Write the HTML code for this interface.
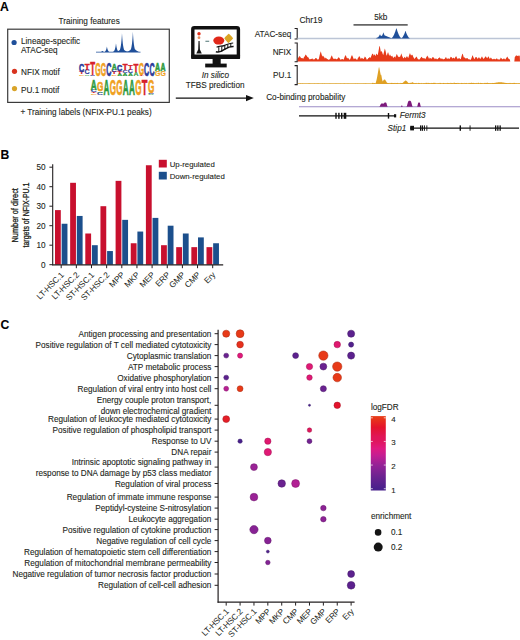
<!DOCTYPE html>
<html><head><meta charset="utf-8"><style>
html,body{margin:0;padding:0;background:#fff;}
svg{display:block;font-family:"Liberation Sans",sans-serif;}
text.t{stroke:#231f20;stroke-width:0.1px;}
</style></head><body>
<svg width="520" height="640" viewBox="0 0 520 640">
<rect width="520" height="640" fill="#fff"/>
<text class="t" x="0.1" y="10.5" font-size="12.2" fill="#000" font-weight="bold">A</text>
<text class="t" x="58.6" y="24" font-size="8.2" fill="#231f20" >Training features</text>
<rect x="7.7" y="29.2" width="161.6" height="73.2" fill="none" stroke="#3b3b3b" stroke-width="1.2"/>
<circle cx="14.1" cy="42.5" r="2.6" fill="#1f4f9a"/>
<text class="t" x="21" y="43.5" font-size="8.2" fill="#231f20" >Lineage-specific</text>
<text class="t" x="21" y="53.4" font-size="8.2" fill="#231f20" >ATAC-seq</text>
<circle cx="14.5" cy="71.3" r="2.6" fill="#d8331f"/>
<text class="t" x="21" y="75" font-size="8.2" fill="#231f20" >NFIX motif</text>
<circle cx="14.5" cy="88.6" r="2.6" fill="#d9a42a"/>
<text class="t" x="21" y="92.6" font-size="8.2" fill="#231f20" >PU.1 motif</text>
<text class="t" x="20.4" y="114.6" font-size="8.2" fill="#231f20" >+ Training labels (NFIX-PU.1 peaks)</text>
<path d="M96.00,52.60 L96.00,51.70 L96.10,51.70 L96.20,51.70 L96.30,51.70 L96.40,51.70 L96.50,51.70 L96.60,51.70 L96.70,51.70 L96.80,51.70 L96.90,51.70 L97.00,51.70 L97.10,51.70 L97.20,51.70 L97.30,51.70 L97.40,51.70 L97.50,51.70 L97.60,51.70 L97.70,51.70 L97.80,51.70 L97.90,51.70 L98.00,51.70 L98.10,51.70 L98.20,51.70 L98.30,51.70 L98.40,51.70 L98.50,51.70 L98.60,51.70 L98.70,51.70 L98.80,51.70 L98.90,51.70 L99.00,51.70 L99.10,51.70 L99.20,51.70 L99.30,51.70 L99.40,51.70 L99.50,51.70 L99.60,51.70 L99.70,51.70 L99.80,51.70 L99.90,51.70 L100.00,51.70 L100.10,51.70 L100.20,51.70 L100.30,51.70 L100.40,51.70 L100.50,51.70 L100.60,51.70 L100.70,51.70 L100.80,51.70 L100.90,51.70 L101.00,51.70 L101.10,51.66 L101.20,51.61 L101.30,51.56 L101.40,51.51 L101.50,51.45 L101.60,51.39 L101.70,51.33 L101.80,51.27 L101.90,51.20 L102.00,51.13 L102.10,51.05 L102.20,50.97 L102.30,50.89 L102.40,50.80 L102.50,50.89 L102.60,50.97 L102.70,51.05 L102.80,51.13 L102.90,51.20 L103.00,51.27 L103.10,51.33 L103.20,51.39 L103.30,51.45 L103.40,51.51 L103.50,51.56 L103.60,51.61 L103.70,51.66 L103.80,51.70 L103.90,51.70 L104.00,51.70 L104.10,51.70 L104.20,51.70 L104.30,51.70 L104.40,51.70 L104.50,51.70 L104.60,51.70 L104.70,51.70 L104.80,51.69 L104.90,51.63 L105.00,51.53 L105.10,51.43 L105.20,51.32 L105.30,51.20 L105.40,51.07 L105.50,50.92 L105.60,50.76 L105.70,50.58 L105.80,50.39 L105.90,50.18 L106.00,49.95 L106.10,49.70 L106.20,49.42 L106.30,49.12 L106.40,48.79 L106.50,48.43 L106.60,48.03 L106.70,47.60 L106.80,47.12 L106.90,46.60 L107.00,47.12 L107.10,47.60 L107.20,48.03 L107.30,48.43 L107.40,48.79 L107.50,49.12 L107.60,49.42 L107.70,49.70 L107.80,49.95 L107.90,50.18 L108.00,50.39 L108.10,50.58 L108.20,50.76 L108.30,50.92 L108.40,51.07 L108.50,51.20 L108.60,51.32 L108.70,51.43 L108.80,51.53 L108.90,51.57 L109.00,51.61 L109.10,51.65 L109.20,51.69 L109.30,51.70 L109.40,51.70 L109.50,51.70 L109.60,51.70 L109.70,51.70 L109.80,51.70 L109.90,51.70 L110.00,51.70 L110.10,51.70 L110.20,51.70 L110.30,51.70 L110.40,51.70 L110.50,51.70 L110.60,51.70 L110.70,51.70 L110.80,51.70 L110.90,51.70 L111.00,51.70 L111.10,51.70 L111.20,51.70 L111.30,51.70 L111.40,51.70 L111.50,51.70 L111.60,51.70 L111.70,51.70 L111.80,51.70 L111.90,51.70 L112.00,51.70 L112.10,51.70 L112.20,51.70 L112.30,51.70 L112.40,51.70 L112.50,51.70 L112.60,51.70 L112.70,51.70 L112.80,51.67 L112.90,51.63 L113.00,51.59 L113.10,51.55 L113.20,51.51 L113.30,51.47 L113.40,51.42 L113.50,51.38 L113.60,51.33 L113.70,51.28 L113.80,51.23 L113.90,51.17 L114.00,51.09 L114.10,50.95 L114.20,50.79 L114.30,50.62 L114.40,50.43 L114.50,50.22 L114.60,50.00 L114.70,49.75 L114.80,49.48 L114.90,49.18 L115.00,48.85 L115.10,48.50 L115.20,48.11 L115.30,47.68 L115.40,47.21 L115.50,46.70 L115.60,46.14 L115.70,45.52 L115.80,44.85 L115.90,44.11 L116.00,43.30 L116.10,44.11 L116.20,44.85 L116.30,45.52 L116.40,46.14 L116.50,46.70 L116.60,47.21 L116.70,47.68 L116.80,48.11 L116.90,48.50 L117.00,48.85 L117.10,49.18 L117.20,49.48 L117.30,49.75 L117.40,50.00 L117.50,50.22 L117.60,50.43 L117.70,50.62 L117.80,50.79 L117.90,50.95 L118.00,51.09 L118.10,51.10 L118.20,51.05 L118.30,51.00 L118.40,50.94 L118.50,50.89 L118.60,50.83 L118.70,50.77 L118.80,50.71 L118.90,50.64 L119.00,50.58 L119.10,50.51 L119.20,50.44 L119.30,50.36 L119.40,50.29 L119.50,50.21 L119.60,50.13 L119.70,50.04 L119.80,49.96 L119.90,49.71 L120.00,49.43 L120.10,49.13 L120.20,48.80 L120.30,48.44 L120.40,48.05 L120.50,47.61 L120.60,47.14 L120.70,46.62 L120.80,46.05 L120.90,45.43 L121.00,44.74 L121.10,44.00 L121.20,43.18 L121.30,42.28 L121.40,41.30 L121.50,40.22 L121.60,39.04 L121.70,37.75 L121.80,36.34 L121.90,34.79 L122.00,33.10 L122.10,34.79 L122.20,36.34 L122.30,37.75 L122.40,39.04 L122.50,40.22 L122.60,41.30 L122.70,42.28 L122.80,43.18 L122.90,44.00 L123.00,44.74 L123.10,45.43 L123.20,46.05 L123.30,46.62 L123.40,47.14 L123.50,47.61 L123.60,48.05 L123.70,48.44 L123.80,48.80 L123.90,49.13 L124.00,49.43 L124.10,49.71 L124.20,49.96 L124.30,50.04 L124.40,50.13 L124.50,50.21 L124.60,50.29 L124.70,50.36 L124.80,50.44 L124.90,50.51 L125.00,50.58 L125.10,50.64 L125.20,50.71 L125.30,50.77 L125.40,50.83 L125.50,50.89 L125.60,50.94 L125.70,51.00 L125.80,51.05 L125.90,51.10 L126.00,51.15 L126.10,51.20 L126.20,51.24 L126.30,51.29 L126.40,51.33 L126.50,51.33 L126.60,51.29 L126.70,51.24 L126.80,51.20 L126.90,51.15 L127.00,51.10 L127.10,51.15 L127.20,51.20 L127.30,51.24 L127.40,51.29 L127.50,51.33 L127.60,51.37 L127.70,51.41 L127.80,51.45 L127.90,51.41 L128.00,51.37 L128.10,51.33 L128.20,51.29 L128.30,51.24 L128.40,51.20 L128.50,51.15 L128.60,51.10 L128.70,51.05 L128.80,51.00 L128.90,50.94 L129.00,50.89 L129.10,50.83 L129.20,50.77 L129.30,50.71 L129.40,50.64 L129.50,50.58 L129.60,50.51 L129.70,50.44 L129.80,50.36 L129.90,50.29 L130.00,50.21 L130.10,50.13 L130.20,50.04 L130.30,49.96 L130.40,49.87 L130.50,49.78 L130.60,49.68 L130.70,49.58 L130.80,49.48 L130.90,49.22 L131.00,48.90 L131.10,48.55 L131.20,48.17 L131.30,47.74 L131.40,47.28 L131.50,46.77 L131.60,46.22 L131.70,45.61 L131.80,44.95 L131.90,44.22 L132.00,43.42 L132.10,42.55 L132.20,41.59 L132.30,40.54 L132.40,39.40 L132.50,38.14 L132.60,36.76 L132.70,35.26 L132.80,33.61 L132.90,31.80 L133.00,33.61 L133.10,35.26 L133.20,36.76 L133.30,38.14 L133.40,39.40 L133.50,40.54 L133.60,41.59 L133.70,42.55 L133.80,43.42 L133.90,44.22 L134.00,44.95 L134.10,45.61 L134.20,46.22 L134.30,46.77 L134.40,47.28 L134.50,47.74 L134.60,48.17 L134.70,48.55 L134.80,48.90 L134.90,49.15 L135.00,49.26 L135.10,49.37 L135.20,49.48 L135.30,49.58 L135.40,49.68 L135.50,49.78 L135.60,49.87 L135.70,49.96 L135.80,50.04 L135.90,50.13 L136.00,50.21 L136.10,50.29 L136.20,50.36 L136.30,50.44 L136.40,50.51 L136.50,50.58 L136.60,50.64 L136.70,50.71 L136.80,50.77 L136.90,50.83 L137.00,50.89 L137.10,50.94 L137.20,51.00 L137.30,51.05 L137.40,51.10 L137.50,51.15 L137.60,51.20 L137.70,51.24 L137.80,51.29 L137.90,51.33 L138.00,51.37 L138.10,51.41 L138.20,51.45 L138.30,51.49 L138.40,51.53 L138.50,51.56 L138.60,51.59 L138.70,51.63 L138.80,51.66 L138.90,51.69 L139.00,51.70 L139.10,51.70 L139.20,51.70 L139.30,51.70 L139.40,51.70 L139.50,51.70 L139.60,51.70 L139.70,51.70 L139.80,51.70 L139.90,51.70 L140.00,51.70 L140.10,51.70 L140.20,51.70 L140.30,51.70 L140.40,51.70 L140.50,51.70 L140.50,52.60 Z" fill="#1f4f9a"/>
<text transform="translate(79.10,75.68) scale(0.691,0.191)" font-size="10" font-weight="bold" fill="#f0a020" stroke="#f0a020" stroke-width="0.15" vector-effect="non-scaling-stroke">G</text>
<text transform="translate(79.29,74.35) scale(0.793,0.392)" font-size="10" font-weight="bold" fill="#d6202a" stroke="#d6202a" stroke-width="0.15" vector-effect="non-scaling-stroke">T</text>
<text transform="translate(79.09,71.55) scale(0.714,1.146)" font-size="10" font-weight="bold" fill="#2a3a9a" stroke="#2a3a9a" stroke-width="0.55" vector-effect="non-scaling-stroke">C</text>
<text transform="translate(84.62,75.70) scale(0.696,0.196)" font-size="10" font-weight="bold" fill="#2e9a3e" stroke="#2e9a3e" stroke-width="0.15" vector-effect="non-scaling-stroke">A</text>
<text transform="translate(84.51,74.29) scale(0.714,0.668)" font-size="10" font-weight="bold" fill="#2a3a9a" stroke="#2a3a9a" stroke-width="0.15" vector-effect="non-scaling-stroke">C</text>
<text transform="translate(84.71,69.63) scale(0.793,0.981)" font-size="10" font-weight="bold" fill="#d6202a" stroke="#d6202a" stroke-width="0.55" vector-effect="non-scaling-stroke">T</text>
<text transform="translate(89.92,75.69) scale(0.714,0.095)" font-size="10" font-weight="bold" fill="#2a3a9a" stroke="#2a3a9a" stroke-width="0.15" vector-effect="non-scaling-stroke">C</text>
<text transform="translate(90.13,75.03) scale(0.793,1.864)" font-size="10" font-weight="bold" fill="#d6202a" stroke="#d6202a" stroke-width="0.55" vector-effect="non-scaling-stroke">T</text>
<text transform="translate(95.35,75.53) scale(0.691,1.909)" font-size="10" font-weight="bold" fill="#f0a020" stroke="#f0a020" stroke-width="0.55" vector-effect="non-scaling-stroke">G</text>
<text transform="translate(100.77,75.53) scale(0.691,1.909)" font-size="10" font-weight="bold" fill="#f0a020" stroke="#f0a020" stroke-width="0.55" vector-effect="non-scaling-stroke">G</text>
<text transform="translate(106.18,75.53) scale(0.714,1.909)" font-size="10" font-weight="bold" fill="#2a3a9a" stroke="#2a3a9a" stroke-width="0.55" vector-effect="non-scaling-stroke">C</text>
<text transform="translate(111.61,75.68) scale(0.691,0.191)" font-size="10" font-weight="bold" fill="#f0a020" stroke="#f0a020" stroke-width="0.15" vector-effect="non-scaling-stroke">G</text>
<text transform="translate(111.80,74.35) scale(0.793,0.294)" font-size="10" font-weight="bold" fill="#d6202a" stroke="#d6202a" stroke-width="0.15" vector-effect="non-scaling-stroke">T</text>
<text transform="translate(111.60,72.30) scale(0.714,0.286)" font-size="10" font-weight="bold" fill="#2a3a9a" stroke="#2a3a9a" stroke-width="0.15" vector-effect="non-scaling-stroke">C</text>
<text transform="translate(111.72,70.30) scale(0.696,0.981)" font-size="10" font-weight="bold" fill="#2e9a3e" stroke="#2e9a3e" stroke-width="0.55" vector-effect="non-scaling-stroke">A</text>
<text transform="translate(117.14,75.70) scale(0.696,0.294)" font-size="10" font-weight="bold" fill="#2e9a3e" stroke="#2e9a3e" stroke-width="0.15" vector-effect="non-scaling-stroke">A</text>
<text transform="translate(117.22,73.67) scale(0.793,0.392)" font-size="10" font-weight="bold" fill="#d6202a" stroke="#d6202a" stroke-width="0.15" vector-effect="non-scaling-stroke">T</text>
<text transform="translate(117.02,70.89) scale(0.714,0.955)" font-size="10" font-weight="bold" fill="#2a3a9a" stroke="#2a3a9a" stroke-width="0.55" vector-effect="non-scaling-stroke">C</text>
<text transform="translate(122.56,75.70) scale(0.696,0.392)" font-size="10" font-weight="bold" fill="#2e9a3e" stroke="#2e9a3e" stroke-width="0.15" vector-effect="non-scaling-stroke">A</text>
<text transform="translate(122.44,72.97) scale(0.714,0.382)" font-size="10" font-weight="bold" fill="#2a3a9a" stroke="#2a3a9a" stroke-width="0.15" vector-effect="non-scaling-stroke">C</text>
<text transform="translate(122.64,70.30) scale(0.793,0.883)" font-size="10" font-weight="bold" fill="#d6202a" stroke="#d6202a" stroke-width="0.55" vector-effect="non-scaling-stroke">T</text>
<text transform="translate(127.97,75.70) scale(0.696,0.392)" font-size="10" font-weight="bold" fill="#2e9a3e" stroke="#2e9a3e" stroke-width="0.15" vector-effect="non-scaling-stroke">A</text>
<text transform="translate(127.86,72.96) scale(0.714,0.477)" font-size="10" font-weight="bold" fill="#2a3a9a" stroke="#2a3a9a" stroke-width="0.15" vector-effect="non-scaling-stroke">C</text>
<text transform="translate(128.06,69.62) scale(0.793,0.687)" font-size="10" font-weight="bold" fill="#d6202a" stroke="#d6202a" stroke-width="0.15" vector-effect="non-scaling-stroke">T</text>
<text transform="translate(133.39,75.70) scale(0.696,0.589)" font-size="10" font-weight="bold" fill="#2e9a3e" stroke="#2e9a3e" stroke-width="0.15" vector-effect="non-scaling-stroke">A</text>
<text transform="translate(133.48,71.65) scale(0.793,1.079)" font-size="10" font-weight="bold" fill="#d6202a" stroke="#d6202a" stroke-width="0.55" vector-effect="non-scaling-stroke">T</text>
<text transform="translate(138.90,75.70) scale(0.793,0.098)" font-size="10" font-weight="bold" fill="#d6202a" stroke="#d6202a" stroke-width="0.15" vector-effect="non-scaling-stroke">T</text>
<text transform="translate(138.70,74.87) scale(0.691,1.719)" font-size="10" font-weight="bold" fill="#f0a020" stroke="#f0a020" stroke-width="0.55" vector-effect="non-scaling-stroke">G</text>
<text transform="translate(144.11,75.53) scale(0.714,1.909)" font-size="10" font-weight="bold" fill="#2a3a9a" stroke="#2a3a9a" stroke-width="0.55" vector-effect="non-scaling-stroke">C</text>
<text transform="translate(149.53,75.53) scale(0.714,1.909)" font-size="10" font-weight="bold" fill="#2a3a9a" stroke="#2a3a9a" stroke-width="0.55" vector-effect="non-scaling-stroke">C</text>
<text transform="translate(154.96,75.64) scale(0.691,0.668)" font-size="10" font-weight="bold" fill="#f0a020" stroke="#f0a020" stroke-width="0.15" vector-effect="non-scaling-stroke">G</text>
<text transform="translate(155.07,70.98) scale(0.696,1.079)" font-size="10" font-weight="bold" fill="#2e9a3e" stroke="#2e9a3e" stroke-width="0.55" vector-effect="non-scaling-stroke">A</text>
<text transform="translate(160.38,75.64) scale(0.691,0.668)" font-size="10" font-weight="bold" fill="#f0a020" stroke="#f0a020" stroke-width="0.15" vector-effect="non-scaling-stroke">G</text>
<text transform="translate(160.49,70.98) scale(0.696,1.079)" font-size="10" font-weight="bold" fill="#2e9a3e" stroke="#2e9a3e" stroke-width="0.55" vector-effect="non-scaling-stroke">A</text>
<text transform="translate(90.71,94.68) scale(0.812,0.179)" font-size="10" font-weight="bold" fill="#f0a020" stroke="#f0a020" stroke-width="0.15" vector-effect="non-scaling-stroke">G</text>
<text transform="translate(90.94,93.44) scale(0.930,0.230)" font-size="10" font-weight="bold" fill="#d6202a" stroke="#d6202a" stroke-width="0.15" vector-effect="non-scaling-stroke">T</text>
<text transform="translate(90.70,91.83) scale(0.838,0.268)" font-size="10" font-weight="bold" fill="#2a3a9a" stroke="#2a3a9a" stroke-width="0.15" vector-effect="non-scaling-stroke">C</text>
<text transform="translate(90.84,89.96) scale(0.816,1.378)" font-size="10" font-weight="bold" fill="#2e9a3e" stroke="#2e9a3e" stroke-width="0.55" vector-effect="non-scaling-stroke">A</text>
<text transform="translate(97.06,94.68) scale(0.838,0.268)" font-size="10" font-weight="bold" fill="#2a3a9a" stroke="#2a3a9a" stroke-width="0.15" vector-effect="non-scaling-stroke">C</text>
<text transform="translate(97.20,92.80) scale(0.816,0.230)" font-size="10" font-weight="bold" fill="#2e9a3e" stroke="#2e9a3e" stroke-width="0.15" vector-effect="non-scaling-stroke">A</text>
<text transform="translate(97.07,91.10) scale(0.812,1.341)" font-size="10" font-weight="bold" fill="#f0a020" stroke="#f0a020" stroke-width="0.55" vector-effect="non-scaling-stroke">G</text>
<text transform="translate(103.56,94.70) scale(0.816,2.297)" font-size="10" font-weight="bold" fill="#2e9a3e" stroke="#2e9a3e" stroke-width="0.55" vector-effect="non-scaling-stroke">A</text>
<text transform="translate(109.79,94.50) scale(0.812,2.235)" font-size="10" font-weight="bold" fill="#f0a020" stroke="#f0a020" stroke-width="0.55" vector-effect="non-scaling-stroke">G</text>
<text transform="translate(116.15,94.50) scale(0.812,2.235)" font-size="10" font-weight="bold" fill="#f0a020" stroke="#f0a020" stroke-width="0.55" vector-effect="non-scaling-stroke">G</text>
<text transform="translate(122.64,94.70) scale(0.816,2.297)" font-size="10" font-weight="bold" fill="#2e9a3e" stroke="#2e9a3e" stroke-width="0.55" vector-effect="non-scaling-stroke">A</text>
<text transform="translate(129.00,94.70) scale(0.816,2.297)" font-size="10" font-weight="bold" fill="#2e9a3e" stroke="#2e9a3e" stroke-width="0.55" vector-effect="non-scaling-stroke">A</text>
<text transform="translate(135.23,94.50) scale(0.812,2.235)" font-size="10" font-weight="bold" fill="#f0a020" stroke="#f0a020" stroke-width="0.55" vector-effect="non-scaling-stroke">G</text>
<text transform="translate(141.82,94.70) scale(0.930,2.297)" font-size="10" font-weight="bold" fill="#d6202a" stroke="#d6202a" stroke-width="0.55" vector-effect="non-scaling-stroke">T</text>
<text transform="translate(148.08,94.70) scale(0.816,0.138)" font-size="10" font-weight="bold" fill="#2e9a3e" stroke="#2e9a3e" stroke-width="0.15" vector-effect="non-scaling-stroke">A</text>
<text transform="translate(147.94,93.74) scale(0.838,0.134)" font-size="10" font-weight="bold" fill="#2a3a9a" stroke="#2a3a9a" stroke-width="0.15" vector-effect="non-scaling-stroke">C</text>
<text transform="translate(147.95,92.64) scale(0.812,1.833)" font-size="10" font-weight="bold" fill="#f0a020" stroke="#f0a020" stroke-width="0.55" vector-effect="non-scaling-stroke">G</text>
<rect x="192.8" y="27.7" width="45.6" height="29.6" rx="1.5" fill="#fff" stroke="#111" stroke-width="3.4"/>
<rect x="191.10" y="54.50" width="49.00" height="4.60" fill="#111" rx="1.2"/>
<rect x="212.60" y="58.50" width="8.10" height="5.50" fill="#111" />
<rect x="205.20" y="63.60" width="21.50" height="3.80" fill="#111" />
<circle cx="199" cy="33.8" r="1.7" fill="#e0301c"/>
<circle cx="199" cy="37.7" r="1.4" fill="#e49060"/>
<path d="M198.5,41 L199.6,41 L199.9,49.5 L201.8,53.6 L196.3,53.6 L198.2,49.5 Z" fill="#111"/>
<line x1="205.4" y1="41.3" x2="209.2" y2="41.3" stroke="#6a8a8a" stroke-width="1.2"/>
<ellipse cx="218.8" cy="40.6" rx="5.5" ry="4.0" fill="#e0281a"/>
<path d="M228.6,33.8 Q229.5,34 233.1,38.3 Q233,39 228.7,42.9 Q228,43 224.3,38.4 Q224.4,37.6 228.6,33.8 Z" fill="#d9a424"/>
<path d="M215.9,51.6 C219,53.2 222,51.2 225,49.2 C228,47.2 231,46.5 233.6,46.6" fill="none" stroke="#111" stroke-width="1.5"/>
<path d="M216.6,47.3 C219,45.6 221.5,46.6 224,45.6 C227,44.4 230,43.2 233.2,43.0" fill="none" stroke="#111" stroke-width="1.2"/>
<line x1="218.8" y1="46.6" x2="218.8" y2="52.2" stroke="#111" stroke-width="1.0"/>
<line x1="221.8" y1="46.6" x2="221.8" y2="51.6" stroke="#111" stroke-width="1.0"/>
<line x1="224.8" y1="45.9" x2="224.8" y2="49.6" stroke="#111" stroke-width="1.0"/>
<line x1="227.8" y1="44.7" x2="227.8" y2="48.2" stroke="#111" stroke-width="1.0"/>
<line x1="230.8" y1="43.8" x2="230.8" y2="47.0" stroke="#111" stroke-width="1.0"/>
<text class="t" x="201.7" y="77.5" font-size="8.2" fill="#231f20" style="font-style:italic" >In silico</text>
<text class="t" x="185.8" y="88" font-size="8.2" fill="#231f20" >TFBS prediction</text>
<line x1="175.8" y1="98.1" x2="247.5" y2="98.1" stroke="#111" stroke-width="1.3"/>
<path d="M246,94.9 L253.8,98.1 L246,101.3 Z" fill="#111"/>
<text class="t" x="299.4" y="23.2" font-size="8.5" fill="#231f20" >Chr19</text>
<text class="t" x="374.2" y="19.9" font-size="8.2" fill="#231f20" >5kb</text>
<line x1="353.5" y1="24.9" x2="407.7" y2="24.9" stroke="#666" stroke-width="1.7"/>
<text class="t" x="291.3" y="36.5" font-size="8.2" text-anchor="end" fill="#231f20" >ATAC-seq</text>
<path d="M294.59999999999997,28.5 L297.2,28.5 L297.2,39 L294.59999999999997,39" fill="none" stroke="#231f20" stroke-width="1.1"/>
<text class="t" x="291.3" y="55.4" font-size="8.2" text-anchor="end" fill="#231f20" >NFIX</text>
<path d="M294.59999999999997,43 L297.2,43 L297.2,61.8 L294.59999999999997,61.8" fill="none" stroke="#231f20" stroke-width="1.1"/>
<text class="t" x="291.3" y="77.7" font-size="8.2" text-anchor="end" fill="#231f20" >PU.1</text>
<path d="M294.59999999999997,65.6 L297.2,65.6 L297.2,84.6 L294.59999999999997,84.6" fill="none" stroke="#231f20" stroke-width="1.1"/>
<line x1="297.5" y1="38.5" x2="520" y2="38.5" stroke="#bcc5d6" stroke-width="1.5"/>
<path d="M376.30,38.60 L376.30,38.54 L376.50,38.48 L376.70,38.40 L376.90,38.30 L377.10,38.18 L377.30,38.04 L377.50,37.88 L377.70,37.70 L377.90,37.50 L378.10,37.28 L378.30,37.04 L378.50,36.78 L378.70,36.50 L378.90,36.20 L379.10,35.88 L379.30,35.54 L379.50,35.19 L379.70,34.81 L379.90,34.41 L380.10,34.41 L380.30,34.81 L380.50,35.19 L380.70,35.54 L380.90,35.88 L381.10,36.20 L381.30,36.50 L381.50,36.71 L381.70,36.37 L381.90,36.00 L382.10,35.60 L382.30,35.17 L382.50,34.71 L382.70,34.23 L382.90,33.71 L383.10,33.17 L383.30,32.60 L383.50,32.60 L383.70,33.17 L383.90,33.71 L384.10,34.22 L384.30,34.71 L384.50,35.17 L384.70,35.60 L384.90,36.00 L385.10,36.37 L385.30,36.71 L385.50,37.02 L385.70,37.31 L385.90,37.57 L386.10,37.80 L386.30,38.00 L386.50,38.17 L386.70,38.31 L386.90,38.42 L387.10,38.51 L387.30,38.57 L387.50,38.60 L387.70,38.60 L387.90,38.60 L388.10,38.60 L388.30,38.60 L388.50,38.60 L388.70,38.60 L388.90,38.60 L389.10,38.60 L389.30,38.60 L389.50,38.60 L389.70,38.60 L389.90,38.60 L390.10,38.60 L390.30,38.60 L390.50,38.60 L390.70,38.57 L390.90,38.53 L391.10,38.45 L391.30,38.36 L391.50,38.24 L391.70,38.10 L391.90,37.93 L392.10,37.74 L392.30,37.53 L392.50,37.29 L392.70,37.03 L392.90,36.74 L393.10,36.43 L393.30,36.10 L393.50,35.74 L393.70,35.36 L393.90,34.96 L394.10,34.53 L394.30,34.08 L394.50,33.60 L394.70,33.10 L394.90,32.58 L395.10,32.03 L395.30,31.46 L395.50,30.87 L395.70,30.25 L395.90,29.61 L396.10,28.94 L396.30,28.25 L396.50,28.25 L396.70,28.94 L396.90,29.61 L397.10,30.25 L397.30,30.87 L397.50,31.46 L397.70,32.03 L397.90,32.58 L398.10,33.10 L398.30,33.60 L398.50,34.08 L398.70,34.53 L398.90,34.96 L399.10,35.36 L399.30,35.74 L399.50,36.10 L399.70,36.43 L399.90,36.74 L400.10,37.03 L400.30,37.29 L400.50,37.53 L400.70,37.74 L400.90,37.93 L401.10,38.10 L401.30,38.24 L401.50,38.18 L401.70,38.03 L401.90,37.85 L402.10,37.65 L402.30,37.43 L402.50,37.19 L402.70,36.92 L402.90,36.63 L403.10,36.31 L403.30,35.97 L403.50,35.61 L403.70,35.22 L403.90,34.81 L404.10,34.38 L404.30,33.93 L404.50,33.45 L404.70,32.94 L404.90,32.42 L405.10,31.87 L405.30,31.30 L405.50,30.70 L405.70,31.30 L405.90,31.87 L406.10,32.42 L406.30,32.94 L406.50,33.45 L406.70,33.93 L406.90,34.38 L407.10,34.81 L407.30,35.22 L407.50,35.61 L407.70,35.97 L407.90,36.31 L408.10,36.62 L408.30,36.92 L408.50,37.19 L408.70,37.43 L408.90,37.65 L409.10,37.85 L409.30,38.03 L409.50,38.18 L409.70,38.31 L409.90,38.41 L410.00,38.60 Z M376.30,38.60 L376.30,37.99 L376.50,37.90 L376.70,37.82 L376.90,37.74 L377.10,37.66 L377.30,37.58 L377.50,37.50 L377.70,37.41 L377.90,37.33 L378.10,37.25 L378.30,37.17 L378.50,37.09 L378.70,37.00 L378.90,36.92 L379.10,36.84 L379.30,36.76 L379.50,36.68 L379.70,36.60 L379.90,36.51 L380.10,36.43 L380.30,36.35 L380.50,36.27 L380.70,36.19 L380.90,36.10 L381.10,36.02 L381.30,35.94 L381.50,35.86 L381.70,35.78 L381.90,35.70 L382.10,35.61 L382.30,35.53 L382.50,35.45 L382.70,35.37 L382.90,35.29 L383.10,35.20 L383.30,35.12 L383.50,35.04 L383.70,35.04 L383.90,35.12 L384.10,35.20 L384.30,35.29 L384.50,35.37 L384.70,35.45 L384.90,35.53 L385.10,35.61 L385.30,35.70 L385.50,35.78 L385.70,35.86 L385.90,35.94 L386.10,36.02 L386.30,36.10 L386.50,36.19 L386.70,36.27 L386.90,36.35 L387.10,36.43 L387.30,36.51 L387.50,36.60 L387.70,36.68 L387.90,36.76 L388.10,36.84 L388.30,36.92 L388.50,37.00 L388.70,37.09 L388.90,37.17 L389.10,37.25 L389.30,37.33 L389.50,37.41 L389.70,37.50 L389.90,37.58 L390.10,37.66 L390.30,37.74 L390.50,37.82 L390.70,37.90 L390.90,37.99 L391.10,38.07 L391.30,38.15 L391.50,38.23 L391.70,38.31 L391.90,38.40 L392.10,38.48 L392.30,38.56 L392.50,38.60 L392.70,38.60 L392.90,38.60 L393.10,38.60 L393.30,38.60 L393.50,38.60 L393.70,38.60 L393.90,38.60 L394.10,38.60 L394.30,38.60 L394.50,38.60 L394.70,38.60 L394.90,38.60 L395.10,38.60 L395.30,38.60 L395.50,38.60 L395.70,38.60 L395.90,38.60 L396.10,38.60 L396.30,38.60 L396.50,38.60 L396.70,38.60 L396.90,38.60 L397.10,38.60 L397.30,38.60 L397.50,38.60 L397.70,38.60 L397.90,38.60 L398.10,38.60 L398.30,38.60 L398.50,38.60 L398.70,38.60 L398.90,38.60 L399.10,38.60 L399.30,38.60 L399.50,38.60 L399.70,38.60 L399.90,38.60 L400.10,38.60 L400.30,38.60 L400.50,38.60 L400.70,38.60 L400.90,38.60 L401.10,38.60 L401.30,38.60 L401.50,38.60 L401.70,38.60 L401.90,38.60 L402.10,38.60 L402.30,38.60 L402.50,38.60 L402.70,38.60 L402.90,38.60 L403.10,38.60 L403.30,38.60 L403.50,38.60 L403.70,38.60 L403.90,38.60 L404.10,38.60 L404.30,38.60 L404.50,38.60 L404.70,38.60 L404.90,38.60 L405.10,38.60 L405.30,38.60 L405.50,38.60 L405.70,38.60 L405.90,38.60 L406.10,38.60 L406.30,38.60 L406.50,38.60 L406.70,38.60 L406.90,38.60 L407.10,38.60 L407.30,38.60 L407.50,38.60 L407.70,38.60 L407.90,38.60 L408.10,38.60 L408.30,38.60 L408.50,38.60 L408.70,38.60 L408.90,38.60 L409.10,38.60 L409.30,38.60 L409.50,38.60 L409.70,38.60 L409.90,38.60 L410.00,38.60 Z" fill="#1f4f9a"/>
<path d="M297.80,61.40 L297.80,58.60 L298.30,57.87 L298.80,56.93 L299.30,56.10 L299.80,56.51 L300.30,56.81 L300.80,57.69 L301.30,58.18 L301.80,58.01 L302.30,58.11 L302.80,58.54 L303.30,58.85 L303.80,57.61 L304.30,56.82 L304.80,56.16 L305.30,55.11 L305.80,54.41 L306.30,55.36 L306.80,56.09 L307.30,56.87 L307.80,57.30 L308.30,57.36 L308.80,58.19 L309.30,58.89 L309.80,59.48 L310.30,59.11 L310.80,59.30 L311.30,58.93 L311.80,58.65 L312.30,58.35 L312.80,59.16 L313.30,59.29 L313.80,59.54 L314.30,59.24 L314.80,59.15 L315.30,58.19 L315.80,58.08 L316.30,58.16 L316.80,58.53 L317.30,59.49 L317.80,59.56 L318.30,59.45 L318.80,58.97 L319.30,56.74 L319.80,54.60 L320.30,52.72 L320.80,51.25 L321.30,53.16 L321.80,54.94 L322.30,56.72 L322.80,55.45 L323.30,56.04 L323.80,56.73 L324.30,57.18 L324.80,58.58 L325.30,58.27 L325.80,57.61 L326.30,58.21 L326.80,58.87 L327.30,58.90 L327.80,59.21 L328.30,59.69 L328.80,59.77 L329.30,59.28 L329.80,59.47 L330.30,58.84 L330.80,57.24 L331.30,56.24 L331.80,55.21 L332.30,56.42 L332.80,57.82 L333.30,58.56 L333.80,59.11 L334.30,58.99 L334.80,58.58 L335.30,58.69 L335.80,58.76 L336.30,59.23 L336.80,59.26 L337.30,58.87 L337.80,58.50 L338.30,57.72 L338.80,56.93 L339.30,57.95 L339.80,58.45 L340.30,59.53 L340.80,59.78 L341.30,59.25 L341.80,59.24 L342.30,59.12 L342.80,59.37 L343.30,59.62 L343.80,59.51 L344.30,57.83 L344.80,56.42 L345.30,55.26 L345.80,55.39 L346.30,56.39 L346.80,57.89 L347.30,58.42 L347.80,57.63 L348.30,57.98 L348.80,58.87 L349.30,59.38 L349.80,59.64 L350.30,58.92 L350.80,57.66 L351.30,56.27 L351.80,55.21 L352.30,55.62 L352.80,56.65 L353.30,57.96 L353.80,59.22 L354.30,58.92 L354.80,58.30 L355.30,58.25 L355.80,58.97 L356.30,59.15 L356.80,59.79 L357.30,59.70 L357.80,58.37 L358.30,57.87 L358.80,56.72 L359.30,56.09 L359.80,56.88 L360.30,57.72 L360.80,58.94 L361.30,58.58 L361.80,57.85 L362.30,58.29 L362.80,58.58 L363.30,58.94 L363.80,58.67 L364.30,57.81 L364.80,56.56 L365.30,57.11 L365.80,57.50 L366.30,58.43 L366.80,59.65 L367.30,59.35 L367.80,59.15 L368.30,58.06 L368.80,58.02 L369.30,57.51 L369.80,57.09 L370.30,58.01 L370.80,57.25 L371.30,55.91 L371.80,54.63 L372.30,53.65 L372.80,53.69 L373.30,54.60 L373.80,55.63 L374.30,54.37 L374.80,54.81 L375.30,56.24 L375.80,55.07 L376.30,53.55 L376.80,54.14 L377.30,55.11 L377.80,54.80 L378.30,52.28 L378.80,49.38 L379.30,46.55 L379.80,45.98 L380.30,48.98 L380.80,51.84 L381.30,51.85 L381.80,50.66 L382.30,52.69 L382.80,54.30 L383.30,55.12 L383.80,52.86 L384.30,50.81 L384.80,48.45 L385.30,49.88 L385.80,52.03 L386.30,54.70 L386.80,55.64 L387.30,53.88 L387.80,52.42 L388.30,52.48 L388.80,54.59 L389.30,55.97 L389.80,54.38 L390.30,54.78 L390.80,55.99 L391.30,56.57 L391.80,56.03 L392.30,55.81 L392.80,56.90 L393.30,58.15 L393.80,57.33 L394.30,56.62 L394.80,57.10 L395.30,57.72 L395.80,56.16 L396.30,55.13 L396.80,53.64 L397.30,54.93 L397.80,56.03 L398.30,57.34 L398.80,56.60 L399.30,56.72 L399.80,57.20 L400.30,56.21 L400.80,55.12 L401.30,53.36 L401.80,55.02 L402.30,56.36 L402.80,57.27 L403.30,58.20 L403.80,58.18 L404.30,57.15 L404.80,56.78 L405.30,57.65 L405.80,57.91 L406.30,57.06 L406.80,56.33 L407.30,56.62 L407.80,57.50 L408.30,57.90 L408.80,56.28 L409.30,54.69 L409.80,53.37 L410.30,53.67 L410.80,55.15 L411.30,55.48 L411.80,54.72 L412.30,54.81 L412.80,55.55 L413.30,57.04 L413.80,57.65 L414.30,58.78 L414.80,58.69 L415.30,57.78 L415.80,57.51 L416.30,56.49 L416.80,57.01 L417.30,57.98 L417.80,58.91 L418.30,59.46 L418.80,59.27 L419.30,59.38 L419.80,59.37 L420.30,58.27 L420.80,57.85 L421.30,56.76 L421.80,56.90 L422.30,57.77 L422.80,58.32 L423.30,58.19 L423.80,58.17 L424.30,57.89 L424.80,58.73 L425.30,59.16 L425.80,58.22 L426.30,57.16 L426.80,56.49 L427.30,55.46 L427.80,56.49 L428.30,57.04 L428.80,58.49 L429.30,58.68 L429.80,57.60 L430.30,58.27 L430.80,58.35 L431.30,58.89 L431.80,58.13 L432.30,57.49 L432.80,56.88 L433.30,57.16 L433.80,57.84 L434.30,58.27 L434.80,59.20 L435.30,58.92 L435.80,58.17 L436.30,58.60 L436.80,59.18 L437.30,59.25 L437.80,59.05 L438.30,58.35 L438.80,58.03 L439.30,57.14 L439.80,57.73 L440.30,58.15 L440.80,58.75 L441.30,58.63 L441.80,58.57 L442.30,58.52 L442.80,59.16 L443.30,59.26 L443.80,59.28 L444.30,58.99 L444.80,58.63 L445.30,57.90 L445.80,57.04 L446.30,57.52 L446.80,58.70 L447.30,58.94 L447.80,58.35 L448.30,58.31 L448.80,58.80 L449.30,59.08 L449.80,58.54 L450.30,57.54 L450.80,56.87 L451.30,57.12 L451.80,57.45 L452.30,58.36 L452.80,58.59 L453.30,57.60 L453.80,58.07 L454.30,58.73 L454.80,57.99 L455.30,57.23 L455.80,56.42 L456.30,56.35 L456.80,57.43 L457.30,58.35 L457.80,59.15 L458.30,58.44 L458.80,58.13 L459.30,57.88 L459.80,58.72 L460.30,58.92 L460.80,59.18 L461.30,56.92 L461.80,55.62 L462.30,54.02 L462.80,53.87 L463.30,55.81 L463.80,57.55 L464.30,57.27 L464.80,57.69 L465.30,57.91 L465.80,58.69 L466.30,58.20 L466.80,58.15 L467.30,58.06 L467.80,58.51 L468.30,59.24 L468.80,59.27 L469.30,59.58 L469.80,59.24 L470.30,59.75 L470.80,59.73 L471.30,58.51 L471.80,57.23 L472.30,55.53 L472.80,55.48 L473.30,57.09 L473.80,58.10 L474.30,59.27 L474.80,58.43 L475.30,57.62 L475.80,57.09 L476.30,56.97 L476.80,57.58 L477.30,58.57 L477.80,58.69 L478.30,58.03 L478.80,57.33 L479.30,57.59 L479.80,58.44 L480.30,59.00 L480.80,58.20 L481.30,57.59 L481.80,56.56 L482.30,56.79 L482.80,58.01 L483.30,58.40 L483.80,58.99 L484.30,57.98 L484.80,57.47 L485.30,56.55 L485.80,56.46 L486.30,57.04 L486.80,57.88 L487.30,58.15 L487.80,57.23 L488.30,56.20 L488.80,57.10 L489.30,58.02 L489.80,58.92 L490.30,58.27 L490.80,57.59 L491.30,57.90 L491.80,58.87 L492.30,59.23 L492.80,59.18 L493.30,59.20 L493.80,58.65 L494.30,58.68 L494.80,59.18 L495.30,59.35 L495.80,59.35 L496.30,58.44 L496.80,58.46 L497.30,58.72 L497.80,59.39 L498.30,59.38 L498.80,59.31 L499.30,59.75 L499.80,59.33 L500.30,58.76 L500.80,57.62 L501.30,58.18 L501.80,58.50 L502.30,59.30 L502.80,59.24 L503.30,58.70 L503.80,58.44 L504.30,58.54 L504.80,59.24 L505.30,59.59 L505.80,58.76 L506.30,58.10 L506.80,57.26 L507.30,56.41 L507.80,57.44 L508.30,58.36 L508.80,59.04 L509.30,59.30 L509.80,59.30 L510.30,61.40 L510.80,61.40 L511.30,61.40 L511.80,61.40 L512.30,61.40 L512.80,61.40 L513.30,61.40 L513.80,61.40 L514.30,61.40 L514.80,56.91 L515.30,56.49 L515.80,55.77 L516.30,55.36 L516.80,55.66 L517.30,55.73 L517.80,56.11 L518.30,56.26 L518.80,55.35 L519.30,55.56 L519.80,56.36 L520.00,61.40 Z" fill="#e63a1a"/>
<line x1="298" y1="83.5" x2="520" y2="83.5" stroke="#eedba8" stroke-width="1.2"/>
<path d="M298.00,83.90 L298.00,83.40 L298.40,83.40 L298.80,83.40 L299.20,83.40 L299.60,83.40 L300.00,83.32 L300.40,83.37 L300.80,83.40 L301.20,83.40 L301.60,83.40 L302.00,83.40 L302.40,83.37 L302.80,83.39 L303.20,83.40 L303.60,83.40 L304.00,83.40 L304.40,83.40 L304.80,83.40 L305.20,83.40 L305.60,83.40 L306.00,83.40 L306.40,83.40 L306.80,83.40 L307.20,83.40 L307.60,83.40 L308.00,83.40 L308.40,83.40 L308.80,83.35 L309.20,83.36 L309.60,83.40 L310.00,83.35 L310.40,83.40 L310.80,83.40 L311.20,83.40 L311.60,83.40 L312.00,83.40 L312.40,83.40 L312.80,83.40 L313.20,83.40 L313.60,83.40 L314.00,83.40 L314.40,83.36 L314.80,83.40 L315.20,83.40 L315.60,83.40 L316.00,83.40 L316.40,83.40 L316.80,83.40 L317.20,83.31 L317.60,83.40 L318.00,83.40 L318.40,83.31 L318.80,83.40 L319.20,83.40 L319.60,83.40 L320.00,83.40 L320.40,83.40 L320.80,83.40 L321.20,83.40 L321.60,83.40 L322.00,83.40 L322.40,83.35 L322.80,83.40 L323.20,83.40 L323.60,83.40 L324.00,83.40 L324.40,83.37 L324.80,83.40 L325.20,83.40 L325.60,83.40 L326.00,83.40 L326.40,83.40 L326.80,83.40 L327.20,83.40 L327.60,83.40 L328.00,83.40 L328.40,83.40 L328.80,83.40 L329.20,83.40 L329.60,83.40 L330.00,83.33 L330.40,83.40 L330.80,83.40 L331.20,83.40 L331.60,83.39 L332.00,83.40 L332.40,83.40 L332.80,83.40 L333.20,83.40 L333.60,83.40 L334.00,83.40 L334.40,83.40 L334.80,83.40 L335.20,83.40 L335.60,83.40 L336.00,83.33 L336.40,83.40 L336.80,83.40 L337.20,83.40 L337.60,83.40 L338.00,83.40 L338.40,83.40 L338.80,83.40 L339.20,83.39 L339.60,83.40 L340.00,83.40 L340.40,83.38 L340.80,83.37 L341.20,83.40 L341.60,83.40 L342.00,83.40 L342.40,83.40 L342.80,83.40 L343.20,83.40 L343.60,83.40 L344.00,83.34 L344.40,83.40 L344.80,83.35 L345.20,83.40 L345.60,83.40 L346.00,83.40 L346.40,83.40 L346.80,83.40 L347.20,83.40 L347.60,83.40 L348.00,83.35 L348.40,83.40 L348.80,83.40 L349.20,83.40 L349.60,83.40 L350.00,83.40 L350.40,83.40 L350.80,83.40 L351.20,83.40 L351.60,83.40 L352.00,83.40 L352.40,83.40 L352.80,83.40 L353.20,83.40 L353.60,83.40 L354.00,83.40 L354.40,83.40 L354.80,83.40 L355.20,83.32 L355.60,83.40 L356.00,83.40 L356.40,83.40 L356.80,83.40 L357.20,83.40 L357.60,83.35 L358.00,83.40 L358.40,83.40 L358.80,83.40 L359.20,83.40 L359.60,83.40 L360.00,83.40 L360.40,83.39 L360.80,83.39 L361.20,83.40 L361.60,83.40 L362.00,83.40 L362.40,83.40 L362.80,83.40 L363.20,83.40 L363.60,83.40 L364.00,83.36 L364.40,83.40 L364.80,83.40 L365.20,83.34 L365.60,83.40 L366.00,83.35 L366.40,83.40 L366.80,83.40 L367.20,83.40 L367.60,83.40 L368.00,83.40 L368.40,83.40 L368.80,83.40 L369.20,83.40 L369.60,83.39 L370.00,83.40 L370.40,83.40 L370.80,83.40 L371.20,83.40 L371.60,83.40 L372.00,83.40 L372.40,82.85 L372.80,82.77 L373.20,83.40 L373.60,83.03 L374.00,82.72 L374.40,83.17 L374.80,82.98 L375.20,83.38 L375.60,83.14 L376.00,81.90 L376.40,80.38 L376.80,78.63 L377.20,76.69 L377.60,74.60 L378.00,72.36 L378.40,69.98 L378.80,67.49 L379.20,67.27 L379.60,69.35 L380.00,71.34 L380.40,73.25 L380.80,75.07 L381.20,74.85 L381.60,76.49 L382.00,78.93 L382.40,80.57 L382.80,81.42 L383.20,80.73 L383.60,80.09 L384.00,79.63 L384.40,79.41 L384.80,79.48 L385.20,79.83 L385.60,80.40 L386.00,81.07 L386.40,81.77 L386.80,82.39 L387.20,82.72 L387.60,83.02 L388.00,83.16 L388.40,83.20 L388.80,83.02 L389.20,82.85 L389.60,83.40 L390.00,83.16 L390.40,82.85 L390.80,83.40 L391.20,82.85 L391.60,83.04 L392.00,82.82 L392.40,82.95 L392.80,83.22 L393.20,83.06 L393.60,83.34 L394.00,82.75 L394.40,83.01 L394.80,83.13 L395.20,83.30 L395.60,82.87 L396.00,83.40 L396.40,82.88 L396.80,83.04 L397.20,82.79 L397.60,83.12 L398.00,83.35 L398.40,83.36 L398.80,83.21 L399.20,83.18 L399.60,83.38 L400.00,82.70 L400.40,83.40 L400.80,82.87 L401.20,83.02 L401.60,83.08 L402.00,83.27 L402.40,82.81 L402.80,83.00 L403.20,82.60 L403.60,82.07 L404.00,81.56 L404.40,81.40 L404.80,80.98 L405.20,80.77 L405.60,80.44 L406.00,80.50 L406.40,81.02 L406.80,81.29 L407.20,81.56 L407.60,82.13 L408.00,82.44 L408.40,82.96 L408.80,83.14 L409.20,82.73 L409.60,83.32 L410.00,83.30 L410.40,82.78 L410.80,82.83 L411.20,82.87 L411.60,82.78 L412.00,82.47 L412.40,82.31 L412.80,82.36 L413.20,82.61 L413.60,82.97 L414.00,83.29 L414.40,83.11 L414.80,83.31 L415.20,82.96 L415.60,82.93 L416.00,83.40 L416.40,83.32 L416.80,82.81 L417.20,83.39 L417.60,83.40 L418.00,82.83 L418.40,83.14 L418.80,82.84 L419.20,83.00 L419.60,83.32 L420.00,82.93 L420.40,83.38 L420.80,83.29 L421.20,83.38 L421.60,82.83 L422.00,83.37 L422.40,83.25 L422.80,83.40 L423.20,83.40 L423.60,82.97 L424.00,83.12 L424.40,83.29 L424.80,83.21 L425.20,82.70 L425.60,83.40 L426.00,82.78 L426.40,82.92 L426.80,82.72 L427.20,82.85 L427.60,83.39 L428.00,82.83 L428.40,83.35 L428.80,82.77 L429.20,83.04 L429.60,83.36 L430.00,82.93 L430.40,83.40 L430.80,83.01 L431.20,83.28 L431.60,83.01 L432.00,82.85 L432.40,83.34 L432.80,82.91 L433.20,82.92 L433.60,82.85 L434.00,82.83 L434.40,83.11 L434.80,82.77 L435.20,82.80 L435.60,83.35 L436.00,83.21 L436.40,83.20 L436.80,83.40 L437.20,83.14 L437.60,83.40 L438.00,82.85 L438.40,83.24 L438.80,83.19 L439.20,83.40 L439.60,82.74 L440.00,83.09 L440.40,83.07 L440.80,82.73 L441.20,83.35 L441.60,83.30 L442.00,83.40 L442.40,82.94 L442.80,83.40 L443.20,83.04 L443.60,82.94 L444.00,82.80 L444.40,83.40 L444.80,83.11 L445.20,83.28 L445.60,83.18 L446.00,83.03 L446.40,83.38 L446.80,82.90 L447.20,82.84 L447.60,83.19 L448.00,82.83 L448.40,83.18 L448.80,82.88 L449.20,83.31 L449.60,83.15 L450.00,82.86 L450.40,82.85 L450.80,83.40 L451.20,82.73 L451.60,83.30 L452.00,82.99 L452.40,83.08 L452.80,83.15 L453.20,83.40 L453.60,82.72 L454.00,82.75 L454.40,82.85 L454.80,82.79 L455.20,82.99 L455.60,82.96 L456.00,83.07 L456.40,83.00 L456.80,83.08 L457.20,82.74 L457.60,83.26 L458.00,83.40 L458.40,82.74 L458.80,83.29 L459.20,83.07 L459.60,83.40 L460.00,83.27 L460.40,83.27 L460.80,83.40 L461.20,82.83 L461.60,83.04 L462.00,83.34 L462.40,83.13 L462.80,83.01 L463.20,83.25 L463.60,83.32 L464.00,83.19 L464.40,83.40 L464.80,82.81 L465.20,83.05 L465.60,83.27 L466.00,83.26 L466.40,83.37 L466.80,82.80 L467.20,83.40 L467.60,83.15 L468.00,83.40 L468.40,82.73 L468.80,83.38 L469.20,83.22 L469.60,83.01 L470.00,82.84 L470.40,82.91 L470.80,82.89 L471.20,82.87 L471.60,82.77 L472.00,82.80 L472.40,82.89 L472.80,83.10 L473.20,83.04 L473.60,82.87 L474.00,83.01 L474.40,83.14 L474.80,82.92 L475.20,83.19 L475.60,83.19 L476.00,82.87 L476.40,83.10 L476.80,83.35 L477.20,83.38 L477.60,83.03 L478.00,82.76 L478.40,82.83 L478.80,82.73 L479.20,83.16 L479.60,83.40 L480.00,83.05 L480.40,82.76 L480.80,83.07 L481.20,83.09 L481.60,82.95 L482.00,83.21 L482.40,83.22 L482.80,82.96 L483.20,83.40 L483.60,83.18 L484.00,83.04 L484.40,82.73 L484.80,83.15 L485.20,82.70 L485.60,83.08 L486.00,83.36 L486.40,82.72 L486.80,83.09 L487.20,82.78 L487.60,82.84 L488.00,82.79 L488.40,83.37 L488.80,83.09 L489.20,83.35 L489.60,83.00 L490.00,83.22 L490.40,82.99 L490.80,83.17 L491.20,83.25 L491.60,83.23 L492.00,82.83 L492.40,82.97 L492.80,83.10 L493.20,83.07 L493.60,83.02 L494.00,82.96 L494.40,82.90 L494.80,82.83 L495.20,82.77 L495.60,82.70 L496.00,82.63 L496.40,82.56 L496.80,82.50 L497.20,82.43 L497.60,82.38 L498.00,82.33 L498.40,82.28 L498.80,82.25 L499.20,82.22 L499.60,82.21 L500.00,82.20 L500.40,82.21 L500.80,82.22 L501.20,82.25 L501.60,82.28 L502.00,82.33 L502.40,82.38 L502.80,82.43 L503.20,82.50 L503.60,82.56 L504.00,82.63 L504.40,82.70 L504.80,82.77 L505.20,82.72 L505.60,82.90 L506.00,82.96 L506.40,83.02 L506.80,83.07 L507.20,83.12 L507.60,83.16 L508.00,83.20 L508.40,82.97 L508.80,83.26 L509.20,83.29 L509.60,82.83 L510.00,83.15 L510.40,82.86 L510.80,83.22 L511.20,83.20 L511.60,83.33 L512.00,83.10 L512.40,83.14 L512.80,82.93 L513.20,82.78 L513.60,83.21 L514.00,83.01 L514.40,82.80 L514.80,83.09 L515.20,83.28 L515.60,83.19 L516.00,83.05 L516.40,83.19 L516.80,83.36 L517.20,83.24 L517.60,83.40 L518.00,83.21 L518.40,83.26 L518.80,83.25 L519.20,83.40 L519.60,83.27 L520.00,82.77 L520.00,83.90 Z" fill="#dfa024"/>
<text class="t" x="266.2" y="100" font-size="8.2" fill="#231f20" >Co-binding probability</text>
<line x1="299" y1="106.8" x2="520" y2="106.8" stroke="#9b8cc6" stroke-width="1.1"/>
<path d="M376.00,106.80 L376.00,106.80 L376.30,106.80 L376.60,106.80 L376.90,106.80 L377.20,106.80 L377.50,106.80 L377.80,106.80 L378.10,106.80 L378.40,106.80 L378.70,106.80 L379.00,106.77 L379.30,106.67 L379.60,106.42 L379.90,105.96 L380.20,105.33 L380.50,104.67 L380.80,104.11 L381.10,103.73 L381.40,103.52 L381.70,103.43 L382.00,103.40 L382.30,103.40 L382.60,103.40 L382.90,103.41 L383.20,103.45 L383.50,103.57 L383.80,103.84 L384.10,103.37 L384.40,102.73 L384.70,102.47 L385.00,102.40 L385.30,102.40 L385.60,102.40 L385.90,102.47 L386.20,102.73 L386.50,103.37 L386.80,104.40 L387.10,105.55 L387.40,106.37 L387.70,106.72 L388.00,106.79 L388.30,106.80 L388.60,106.80 L388.90,106.80 L389.20,106.80 L389.50,106.80 L389.80,106.80 L390.10,106.80 L390.40,106.80 L390.70,106.80 L391.00,106.80 L391.30,106.80 L391.60,106.80 L391.90,106.80 L392.20,106.80 L392.50,106.80 L392.80,106.80 L393.10,106.80 L393.40,106.80 L393.70,106.80 L394.00,106.80 L394.30,106.80 L394.60,106.80 L394.90,106.80 L395.20,106.80 L395.50,106.80 L395.80,106.80 L396.10,106.80 L396.40,106.80 L396.70,106.80 L397.00,106.80 L397.30,106.80 L397.60,106.80 L397.90,106.80 L398.20,106.80 L398.50,106.80 L398.80,106.80 L399.10,106.80 L399.40,106.80 L399.70,106.80 L400.00,106.80 L400.30,106.80 L400.60,106.80 L400.90,106.72 L401.20,106.04 L401.50,105.54 L401.80,105.50 L402.10,105.54 L402.40,106.04 L402.70,106.72 L403.00,106.80 L403.30,106.80 L403.60,106.80 L403.90,106.80 L404.20,106.80 L404.50,106.80 L404.80,106.80 L405.10,106.80 L405.40,106.80 L405.70,106.80 L406.00,106.79 L406.30,106.71 L406.60,106.47 L406.90,105.90 L407.20,104.97 L407.50,103.81 L407.80,102.68 L408.10,101.79 L408.40,101.23 L408.70,100.94 L409.00,100.83 L409.30,100.80 L409.60,100.80 L409.90,100.80 L410.20,100.83 L410.50,100.94 L410.80,101.23 L411.10,101.79 L411.40,102.68 L411.70,103.81 L412.00,104.97 L412.30,105.90 L412.60,106.47 L412.90,106.71 L413.20,106.79 L413.50,106.80 L413.80,106.80 L414.10,106.80 L414.40,106.80 L414.70,106.80 L415.00,106.80 L415.30,106.80 L415.60,106.80 L415.90,106.80 L416.20,106.80 L416.50,106.80 L416.80,106.79 L417.10,106.65 L417.40,106.00 L417.70,104.71 L418.00,103.41 L418.30,102.67 L418.60,102.43 L418.90,102.40 L419.20,102.40 L419.50,102.47 L419.80,102.84 L420.10,103.79 L420.40,105.18 L420.70,106.30 L421.00,106.73 L421.30,106.80 L421.60,106.80 L421.90,106.80 L422.20,106.80 L422.50,106.80 L422.80,106.80 L423.10,106.80 L423.40,106.80 L423.70,106.80 L424.00,106.80 L424.30,106.80 L424.60,106.80 L424.90,106.80 L425.00,106.80 Z" fill="#7d1a7c"/>
<line x1="299" y1="115.8" x2="395" y2="115.8" stroke="#111" stroke-width="1.2"/>
<rect x="335.30" y="112.80" width="1.40" height="6.00" fill="#111" />
<rect x="338.20" y="112.80" width="1.40" height="6.00" fill="#111" />
<rect x="341.00" y="112.80" width="1.40" height="6.00" fill="#111" />
<rect x="343.70" y="112.80" width="2.60" height="6.00" fill="#111" />
<rect x="387.80" y="113.00" width="1.40" height="5.60" fill="#111" />
<rect x="394.00" y="114.20" width="2.20" height="3.20" fill="#111" />
<text class="t" x="399.7" y="118.4" font-size="8.2" fill="#231f20" style="font-style:italic" >Fermt3</text>
<text class="t" x="387.6" y="130.5" font-size="8.2" fill="#231f20" style="font-style:italic" >Stip1</text>
<line x1="410" y1="128.1" x2="519" y2="128.1" stroke="#111" stroke-width="1.2"/>
<rect x="410.20" y="125.80" width="3.80" height="4.60" fill="#111" />
<rect x="420.00" y="125.40" width="1.30" height="5.40" fill="#111" />
<rect x="421.80" y="125.40" width="1.30" height="5.40" fill="#111" />
<rect x="424.10" y="125.40" width="0.90" height="5.40" fill="#111" />
<rect x="426.40" y="125.40" width="0.90" height="5.40" fill="#111" />
<rect x="459.60" y="125.40" width="1.40" height="5.40" fill="#111" />
<rect x="469.60" y="125.40" width="0.90" height="5.40" fill="#111" />
<rect x="495.00" y="125.40" width="1.30" height="5.40" fill="#111" />
<rect x="497.20" y="125.40" width="1.30" height="5.40" fill="#111" />
<rect x="499.50" y="125.40" width="1.30" height="5.40" fill="#111" />
<text class="t" x="0.6" y="159.4" font-size="12.2" fill="#000" font-weight="bold">B</text>
<line x1="52.7" y1="164.3" x2="52.7" y2="265.3" stroke="#231f20" stroke-width="1.1"/>
<line x1="49.4" y1="264.7" x2="52.7" y2="264.7" stroke="#231f20" stroke-width="1"/>
<text class="t" x="45.6" y="267.59999999999997" font-size="8.2" text-anchor="end" fill="#231f20" >0</text>
<line x1="49.4" y1="245.2" x2="52.7" y2="245.2" stroke="#231f20" stroke-width="1"/>
<text class="t" x="45.6" y="248.1" font-size="8.2" text-anchor="end" fill="#231f20" >10</text>
<line x1="49.4" y1="225.7" x2="52.7" y2="225.7" stroke="#231f20" stroke-width="1"/>
<text class="t" x="45.6" y="228.6" font-size="8.2" text-anchor="end" fill="#231f20" >20</text>
<line x1="49.4" y1="206.2" x2="52.7" y2="206.2" stroke="#231f20" stroke-width="1"/>
<text class="t" x="45.6" y="209.1" font-size="8.2" text-anchor="end" fill="#231f20" >30</text>
<line x1="49.4" y1="186.7" x2="52.7" y2="186.7" stroke="#231f20" stroke-width="1"/>
<text class="t" x="45.6" y="189.6" font-size="8.2" text-anchor="end" fill="#231f20" >40</text>
<line x1="49.4" y1="167.2" x2="52.7" y2="167.2" stroke="#231f20" stroke-width="1"/>
<text class="t" x="45.6" y="170.1" font-size="8.2" text-anchor="end" fill="#231f20" >50</text>
<rect x="55.00" y="210.10" width="5.80" height="54.60" fill="#c8102e" />
<rect x="61.65" y="223.75" width="5.80" height="40.95" fill="#1c4f8c" />
<line x1="61.2" y1="265" x2="61.2" y2="268.2" stroke="#231f20" stroke-width="1"/>
<text transform="translate(64.40,275.5) rotate(-45)" font-size="8.3" letter-spacing="-0.15" text-anchor="end" fill="#231f20">LT-HSC.1</text>
<rect x="70.15" y="182.80" width="5.80" height="81.90" fill="#c8102e" />
<rect x="76.80" y="215.95" width="5.80" height="48.75" fill="#1c4f8c" />
<line x1="76.35000000000001" y1="265" x2="76.35000000000001" y2="268.2" stroke="#231f20" stroke-width="1"/>
<text transform="translate(79.55,275.5) rotate(-45)" font-size="8.3" letter-spacing="-0.15" text-anchor="end" fill="#231f20">LT-HSC.2</text>
<rect x="85.30" y="233.50" width="5.80" height="31.20" fill="#c8102e" />
<rect x="91.95" y="245.20" width="5.80" height="19.50" fill="#1c4f8c" />
<line x1="91.5" y1="265" x2="91.5" y2="268.2" stroke="#231f20" stroke-width="1"/>
<text transform="translate(94.70,275.5) rotate(-45)" font-size="8.3" letter-spacing="-0.15" text-anchor="end" fill="#231f20">ST-HSC.1</text>
<rect x="100.45" y="206.20" width="5.80" height="58.50" fill="#c8102e" />
<rect x="107.10" y="251.05" width="5.80" height="13.65" fill="#1c4f8c" />
<line x1="106.65" y1="265" x2="106.65" y2="268.2" stroke="#231f20" stroke-width="1"/>
<text transform="translate(109.85,275.5) rotate(-45)" font-size="8.3" letter-spacing="-0.15" text-anchor="end" fill="#231f20">ST-HSC.2</text>
<rect x="115.60" y="180.85" width="5.80" height="83.85" fill="#c8102e" />
<rect x="122.25" y="219.85" width="5.80" height="44.85" fill="#1c4f8c" />
<line x1="121.80000000000001" y1="265" x2="121.80000000000001" y2="268.2" stroke="#231f20" stroke-width="1"/>
<text transform="translate(125.00,275.5) rotate(-45)" font-size="8.3" letter-spacing="-0.15" text-anchor="end" fill="#231f20">MPP</text>
<rect x="130.75" y="243.25" width="5.80" height="21.45" fill="#c8102e" />
<rect x="137.40" y="231.55" width="5.80" height="33.15" fill="#1c4f8c" />
<line x1="136.95" y1="265" x2="136.95" y2="268.2" stroke="#231f20" stroke-width="1"/>
<text transform="translate(140.15,275.5) rotate(-45)" font-size="8.3" letter-spacing="-0.15" text-anchor="end" fill="#231f20">MKP</text>
<rect x="145.90" y="165.25" width="5.80" height="99.45" fill="#c8102e" />
<rect x="152.55" y="217.90" width="5.80" height="46.80" fill="#1c4f8c" />
<line x1="152.10000000000002" y1="265" x2="152.10000000000002" y2="268.2" stroke="#231f20" stroke-width="1"/>
<text transform="translate(155.30,275.5) rotate(-45)" font-size="8.3" letter-spacing="-0.15" text-anchor="end" fill="#231f20">MEP</text>
<rect x="161.05" y="245.20" width="5.80" height="19.50" fill="#c8102e" />
<rect x="167.70" y="225.70" width="5.80" height="39.00" fill="#1c4f8c" />
<line x1="167.25" y1="265" x2="167.25" y2="268.2" stroke="#231f20" stroke-width="1"/>
<text transform="translate(170.45,275.5) rotate(-45)" font-size="8.3" letter-spacing="-0.15" text-anchor="end" fill="#231f20">ERP</text>
<rect x="176.20" y="247.15" width="5.80" height="17.55" fill="#c8102e" />
<rect x="182.85" y="233.50" width="5.80" height="31.20" fill="#1c4f8c" />
<line x1="182.4" y1="265" x2="182.4" y2="268.2" stroke="#231f20" stroke-width="1"/>
<text transform="translate(185.60,275.5) rotate(-45)" font-size="8.3" letter-spacing="-0.15" text-anchor="end" fill="#231f20">GMP</text>
<rect x="191.35" y="247.15" width="5.80" height="17.55" fill="#c8102e" />
<rect x="198.00" y="237.40" width="5.80" height="27.30" fill="#1c4f8c" />
<line x1="197.55" y1="265" x2="197.55" y2="268.2" stroke="#231f20" stroke-width="1"/>
<text transform="translate(200.75,275.5) rotate(-45)" font-size="8.3" letter-spacing="-0.15" text-anchor="end" fill="#231f20">CMP</text>
<rect x="206.50" y="247.15" width="5.80" height="17.55" fill="#c8102e" />
<rect x="213.15" y="243.25" width="5.80" height="21.45" fill="#1c4f8c" />
<line x1="212.7" y1="265" x2="212.7" y2="268.2" stroke="#231f20" stroke-width="1"/>
<text transform="translate(215.90,275.5) rotate(-45)" font-size="8.3" letter-spacing="-0.15" text-anchor="end" fill="#231f20">Ery</text>
<line x1="52.2" y1="264.8" x2="223.2" y2="264.8" stroke="#231f20" stroke-width="1.3"/>
<rect x="158.80" y="159.80" width="8.00" height="7.70" fill="#c8102e" />
<text class="t" x="169.7" y="166.6" font-size="7.8" fill="#231f20" >Up-regulated</text>
<rect x="158.80" y="171.80" width="8.00" height="7.70" fill="#1c4f8c" />
<text class="t" x="169.7" y="178.6" font-size="7.8" fill="#231f20" >Down-regulated</text>
<text transform="translate(18.3,215.3) rotate(-90)" font-size="8.7" text-anchor="middle" textLength="54.4" lengthAdjust="spacingAndGlyphs" fill="#231f20" stroke="#231f20" stroke-width="0.3">Number of direct</text>
<text transform="translate(28.9,215.0) rotate(-90)" font-size="8.7" text-anchor="middle" textLength="65" lengthAdjust="spacingAndGlyphs" fill="#231f20" stroke="#231f20" stroke-width="0.3">targets of NFIX-PU.1</text>
<text class="t" x="0.4" y="329.3" font-size="12.2" fill="#000" font-weight="bold">C</text>
<line x1="218.1" y1="329.8" x2="218.1" y2="602.8" stroke="#231f20" stroke-width="1.2"/>
<line x1="217.6" y1="602.2" x2="354.6" y2="602.2" stroke="#231f20" stroke-width="1.3"/>
<line x1="214.6" y1="333.7" x2="218.1" y2="333.7" stroke="#231f20" stroke-width="1"/>
<text class="t" x="211.4" y="336.8" font-size="8.2" text-anchor="end" fill="#231f20" >Antigen processing and presentation</text>
<line x1="214.6" y1="344.6" x2="218.1" y2="344.6" stroke="#231f20" stroke-width="1"/>
<text class="t" x="211.4" y="347.70000000000005" font-size="8.2" text-anchor="end" fill="#231f20" >Positive regulation of T cell mediated cytotoxicity</text>
<line x1="214.6" y1="355.6" x2="218.1" y2="355.6" stroke="#231f20" stroke-width="1"/>
<text class="t" x="211.4" y="358.70000000000005" font-size="8.2" text-anchor="end" fill="#231f20" >Cytoplasmic translation</text>
<line x1="214.6" y1="366.6" x2="218.1" y2="366.6" stroke="#231f20" stroke-width="1"/>
<text class="t" x="211.4" y="369.70000000000005" font-size="8.2" text-anchor="end" fill="#231f20" >ATP metabolic process</text>
<line x1="214.6" y1="377.6" x2="218.1" y2="377.6" stroke="#231f20" stroke-width="1"/>
<text class="t" x="211.4" y="380.70000000000005" font-size="8.2" text-anchor="end" fill="#231f20" >Oxidative phosphorylation</text>
<line x1="214.6" y1="388.7" x2="218.1" y2="388.7" stroke="#231f20" stroke-width="1"/>
<text class="t" x="211.4" y="391.8" font-size="8.2" text-anchor="end" fill="#231f20" >Regulation of viral entry into host cell</text>
<line x1="214.6" y1="405.3" x2="218.1" y2="405.3" stroke="#231f20" stroke-width="1"/>
<text class="t" x="211.4" y="402.90000000000003" font-size="8.2" text-anchor="end" fill="#231f20" >Energy couple proton transport,</text>
<text class="t" x="211.4" y="413.90000000000003" font-size="8.2" text-anchor="end" fill="#231f20" >down electrochemical gradient</text>
<line x1="214.6" y1="419.1" x2="218.1" y2="419.1" stroke="#231f20" stroke-width="1"/>
<text class="t" x="211.4" y="422.20000000000005" font-size="8.2" text-anchor="end" fill="#231f20" >Regulation of leukocyte mediated cytotoxicity</text>
<line x1="214.6" y1="430.1" x2="218.1" y2="430.1" stroke="#231f20" stroke-width="1"/>
<text class="t" x="211.4" y="433.20000000000005" font-size="8.2" text-anchor="end" fill="#231f20" >Positive regulation of phospholipid transport</text>
<line x1="214.6" y1="441.2" x2="218.1" y2="441.2" stroke="#231f20" stroke-width="1"/>
<text class="t" x="211.4" y="444.3" font-size="8.2" text-anchor="end" fill="#231f20" >Response to UV</text>
<line x1="214.6" y1="452.1" x2="218.1" y2="452.1" stroke="#231f20" stroke-width="1"/>
<text class="t" x="211.4" y="455.20000000000005" font-size="8.2" text-anchor="end" fill="#231f20" >DNA repair</text>
<line x1="214.6" y1="467.1" x2="218.1" y2="467.1" stroke="#231f20" stroke-width="1"/>
<text class="t" x="211.4" y="464.70000000000005" font-size="8.2" text-anchor="end" fill="#231f20" >Intrinsic apoptotic signaling pathway in</text>
<text class="t" x="211.4" y="475.70000000000005" font-size="8.2" text-anchor="end" fill="#231f20" >response to DNA damage by p53 class mediator</text>
<line x1="214.6" y1="483.5" x2="218.1" y2="483.5" stroke="#231f20" stroke-width="1"/>
<text class="t" x="211.4" y="486.6" font-size="8.2" text-anchor="end" fill="#231f20" >Regulation of viral process</text>
<line x1="214.6" y1="497.1" x2="218.1" y2="497.1" stroke="#231f20" stroke-width="1"/>
<text class="t" x="211.4" y="500.20000000000005" font-size="8.2" text-anchor="end" fill="#231f20" >Regulation of immate immune response</text>
<line x1="214.6" y1="508.1" x2="218.1" y2="508.1" stroke="#231f20" stroke-width="1"/>
<text class="t" x="211.4" y="511.20000000000005" font-size="8.2" text-anchor="end" fill="#231f20" >Peptidyl-cysteine S-nitrosylation</text>
<line x1="214.6" y1="519.2" x2="218.1" y2="519.2" stroke="#231f20" stroke-width="1"/>
<text class="t" x="211.4" y="522.3000000000001" font-size="8.2" text-anchor="end" fill="#231f20" >Leukocyte aggregation</text>
<line x1="214.6" y1="529.6" x2="218.1" y2="529.6" stroke="#231f20" stroke-width="1"/>
<text class="t" x="211.4" y="532.7" font-size="8.2" text-anchor="end" fill="#231f20" >Positive regulation of cytokine production</text>
<line x1="214.6" y1="540.6" x2="218.1" y2="540.6" stroke="#231f20" stroke-width="1"/>
<text class="t" x="211.4" y="543.7" font-size="8.2" text-anchor="end" fill="#231f20" >Negative regulation of cell cycle</text>
<line x1="214.6" y1="551.6" x2="218.1" y2="551.6" stroke="#231f20" stroke-width="1"/>
<text class="t" x="211.4" y="554.7" font-size="8.2" text-anchor="end" fill="#231f20" >Regulation of hematopoietic stem cell differentiation</text>
<line x1="214.6" y1="562.5" x2="218.1" y2="562.5" stroke="#231f20" stroke-width="1"/>
<text class="t" x="211.4" y="565.6" font-size="8.2" text-anchor="end" fill="#231f20" >Regulation of mitochondrial membrane permeability</text>
<line x1="214.6" y1="574.0" x2="218.1" y2="574.0" stroke="#231f20" stroke-width="1"/>
<text class="t" x="211.4" y="577.1" font-size="8.2" text-anchor="end" fill="#231f20" >Negative regulation of tumor necrosis factor production</text>
<line x1="214.6" y1="585.3" x2="218.1" y2="585.3" stroke="#231f20" stroke-width="1"/>
<text class="t" x="211.4" y="588.4" font-size="8.2" text-anchor="end" fill="#231f20" >Regulation of cell-cell adhesion</text>
<line x1="226.2" y1="602.3" x2="226.2" y2="605.6" stroke="#231f20" stroke-width="1"/>
<text transform="translate(229.40,612.1) rotate(-45)" font-size="8.3" letter-spacing="-0.15" text-anchor="end" fill="#231f20">LT-HSC.1</text>
<line x1="240.07999999999998" y1="602.3" x2="240.07999999999998" y2="605.6" stroke="#231f20" stroke-width="1"/>
<text transform="translate(243.28,612.1) rotate(-45)" font-size="8.3" letter-spacing="-0.15" text-anchor="end" fill="#231f20">LT-HSC.2</text>
<line x1="253.95999999999998" y1="602.3" x2="253.95999999999998" y2="605.6" stroke="#231f20" stroke-width="1"/>
<text transform="translate(257.16,612.1) rotate(-45)" font-size="8.3" letter-spacing="-0.15" text-anchor="end" fill="#231f20">ST-HSC.1</text>
<line x1="267.84" y1="602.3" x2="267.84" y2="605.6" stroke="#231f20" stroke-width="1"/>
<text transform="translate(271.04,612.1) rotate(-45)" font-size="8.3" letter-spacing="-0.15" text-anchor="end" fill="#231f20">MPP</text>
<line x1="281.71999999999997" y1="602.3" x2="281.71999999999997" y2="605.6" stroke="#231f20" stroke-width="1"/>
<text transform="translate(284.92,612.1) rotate(-45)" font-size="8.3" letter-spacing="-0.15" text-anchor="end" fill="#231f20">MKP</text>
<line x1="295.6" y1="602.3" x2="295.6" y2="605.6" stroke="#231f20" stroke-width="1"/>
<text transform="translate(298.80,612.1) rotate(-45)" font-size="8.3" letter-spacing="-0.15" text-anchor="end" fill="#231f20">CMP</text>
<line x1="309.48" y1="602.3" x2="309.48" y2="605.6" stroke="#231f20" stroke-width="1"/>
<text transform="translate(312.68,612.1) rotate(-45)" font-size="8.3" letter-spacing="-0.15" text-anchor="end" fill="#231f20">MEP</text>
<line x1="323.36" y1="602.3" x2="323.36" y2="605.6" stroke="#231f20" stroke-width="1"/>
<text transform="translate(326.56,612.1) rotate(-45)" font-size="8.3" letter-spacing="-0.15" text-anchor="end" fill="#231f20">GMP</text>
<line x1="337.24" y1="602.3" x2="337.24" y2="605.6" stroke="#231f20" stroke-width="1"/>
<text transform="translate(340.44,612.1) rotate(-45)" font-size="8.3" letter-spacing="-0.15" text-anchor="end" fill="#231f20">ERP</text>
<line x1="351.12" y1="602.3" x2="351.12" y2="605.6" stroke="#231f20" stroke-width="1"/>
<text transform="translate(354.32,612.1) rotate(-45)" font-size="8.3" letter-spacing="-0.15" text-anchor="end" fill="#231f20">Ery</text>
<circle cx="226.20" cy="333.7" r="3.55" fill="#e83a18" stroke="#a72a11" stroke-width="0.5"/>
<circle cx="240.08" cy="333.7" r="3.95" fill="#e83a18" stroke="#a72a11" stroke-width="0.5"/>
<circle cx="351.12" cy="333.7" r="3.55" fill="#5c218e" stroke="#431867" stroke-width="0.5"/>
<circle cx="240.08" cy="344.6" r="3.35" fill="#e7301d" stroke="#a62315" stroke-width="0.5"/>
<circle cx="337.24" cy="344.6" r="3.25" fill="#e0186f" stroke="#a11150" stroke-width="0.5"/>
<circle cx="351.12" cy="344.6" r="2.55" fill="#52218d" stroke="#3b1766" stroke-width="0.5"/>
<circle cx="226.20" cy="355.6" r="2.45" fill="#6a2290" stroke="#4c1868" stroke-width="0.5"/>
<circle cx="240.08" cy="355.6" r="2.55" fill="#e0197a" stroke="#a11258" stroke-width="0.5"/>
<circle cx="295.60" cy="355.6" r="2.95" fill="#5c218e" stroke="#431867" stroke-width="0.5"/>
<circle cx="323.36" cy="355.6" r="4.65" fill="#e83a18" stroke="#a72a11" stroke-width="0.5"/>
<circle cx="351.12" cy="355.6" r="3.55" fill="#5c218e" stroke="#431867" stroke-width="0.5"/>
<circle cx="309.48" cy="366.6" r="3.15" fill="#e01975" stroke="#a11254" stroke-width="0.5"/>
<circle cx="323.36" cy="366.6" r="3.45" fill="#6a2290" stroke="#4c1868" stroke-width="0.5"/>
<circle cx="337.24" cy="366.6" r="4.65" fill="#e83a18" stroke="#a72a11" stroke-width="0.5"/>
<circle cx="226.20" cy="377.6" r="2.45" fill="#5c218e" stroke="#431867" stroke-width="0.5"/>
<circle cx="309.48" cy="377.6" r="2.75" fill="#e01975" stroke="#a11254" stroke-width="0.5"/>
<circle cx="337.24" cy="377.6" r="4.25" fill="#e83a18" stroke="#a72a11" stroke-width="0.5"/>
<circle cx="226.20" cy="388.7" r="2.45" fill="#b81f93" stroke="#84166a" stroke-width="0.5"/>
<circle cx="240.08" cy="388.7" r="2.95" fill="#e83a18" stroke="#a72a11" stroke-width="0.5"/>
<circle cx="323.36" cy="388.7" r="3.05" fill="#6a2290" stroke="#4c1868" stroke-width="0.5"/>
<circle cx="309.48" cy="405.3" r="1.05" fill="#48208c" stroke="#341765" stroke-width="0.5"/>
<circle cx="337.24" cy="405.3" r="3.25" fill="#e4142c" stroke="#a40e20" stroke-width="0.5"/>
<circle cx="226.20" cy="419.1" r="3.45" fill="#e51e27" stroke="#a5151c" stroke-width="0.5"/>
<circle cx="309.48" cy="430.1" r="2.25" fill="#e0165c" stroke="#a11043" stroke-width="0.5"/>
<circle cx="240.08" cy="441.2" r="2.15" fill="#48208c" stroke="#341765" stroke-width="0.5"/>
<circle cx="267.84" cy="441.2" r="3.15" fill="#e0186f" stroke="#a11150" stroke-width="0.5"/>
<circle cx="309.48" cy="441.2" r="2.45" fill="#722291" stroke="#521869" stroke-width="0.5"/>
<circle cx="267.84" cy="452.1" r="3.65" fill="#e01975" stroke="#a11254" stroke-width="0.5"/>
<circle cx="253.96" cy="467.1" r="3.45" fill="#9a2296" stroke="#6f186c" stroke-width="0.5"/>
<circle cx="281.72" cy="483.5" r="3.75" fill="#6a2290" stroke="#4c1868" stroke-width="0.5"/>
<circle cx="295.60" cy="483.5" r="3.95" fill="#b22094" stroke="#80176a" stroke-width="0.5"/>
<circle cx="253.96" cy="497.1" r="3.85" fill="#9a2296" stroke="#6f186c" stroke-width="0.5"/>
<circle cx="323.36" cy="508.1" r="2.75" fill="#8c2295" stroke="#65186b" stroke-width="0.5"/>
<circle cx="323.36" cy="519.2" r="2.75" fill="#8c2295" stroke="#65186b" stroke-width="0.5"/>
<circle cx="253.96" cy="529.6" r="4.15" fill="#872294" stroke="#61186b" stroke-width="0.5"/>
<circle cx="267.84" cy="540.6" r="3.35" fill="#872294" stroke="#61186b" stroke-width="0.5"/>
<circle cx="267.84" cy="551.6" r="1.45" fill="#4f208d" stroke="#391765" stroke-width="0.5"/>
<circle cx="267.84" cy="562.5" r="2.25" fill="#832294" stroke="#5e186a" stroke-width="0.5"/>
<circle cx="351.12" cy="574.0" r="3.45" fill="#5c218e" stroke="#431867" stroke-width="0.5"/>
<circle cx="351.12" cy="585.3" r="3.85" fill="#5c218e" stroke="#431867" stroke-width="0.5"/>
<text class="t" x="370.9" y="409.6" font-size="8.2" fill="#231f20" >logFDR</text>
<defs><linearGradient id="cb" x1="0" y1="0" x2="0" y2="1">
<stop offset="0.023" stop-color="#e83a18"/><stop offset="0.15" stop-color="#e4142c"/>
<stop offset="0.277" stop-color="#e01658"/><stop offset="0.34" stop-color="#e0165e"/>
<stop offset="0.435" stop-color="#e01a80"/><stop offset="0.53" stop-color="#c41e92"/>
<stop offset="0.66" stop-color="#942296"/><stop offset="0.82" stop-color="#6a2290"/>
<stop offset="0.976" stop-color="#48208c"/></linearGradient></defs>
<rect x="370.80" y="416.10" width="15.00" height="74.40" fill="url(#cb)" />
<line x1="370.8" y1="417.8" x2="372.8" y2="417.8" stroke="#fff" stroke-width="0.7"/>
<line x1="383.8" y1="417.8" x2="385.8" y2="417.8" stroke="#fff" stroke-width="0.7"/>
<text class="t" x="391.3" y="421.7" font-size="7.9" fill="#231f20" >4</text>
<line x1="370.8" y1="441.43" x2="372.8" y2="441.43" stroke="#fff" stroke-width="0.7"/>
<line x1="383.8" y1="441.43" x2="385.8" y2="441.43" stroke="#fff" stroke-width="0.7"/>
<text class="t" x="391.3" y="445.33" font-size="7.9" fill="#231f20" >3</text>
<line x1="370.8" y1="465.06" x2="372.8" y2="465.06" stroke="#fff" stroke-width="0.7"/>
<line x1="383.8" y1="465.06" x2="385.8" y2="465.06" stroke="#fff" stroke-width="0.7"/>
<text class="t" x="391.3" y="468.96" font-size="7.9" fill="#231f20" >2</text>
<line x1="370.8" y1="488.69" x2="372.8" y2="488.69" stroke="#fff" stroke-width="0.7"/>
<line x1="383.8" y1="488.69" x2="385.8" y2="488.69" stroke="#fff" stroke-width="0.7"/>
<text class="t" x="391.3" y="492.59" font-size="7.9" fill="#231f20" >1</text>
<text class="t" x="370.9" y="518.8" font-size="8.2" fill="#231f20" >enrichment</text>
<circle cx="378.1" cy="532.4" r="3.3" fill="#151515"/>
<text class="t" x="391.0" y="535.4" font-size="8.2" fill="#231f20" >0.1</text>
<circle cx="378.2" cy="547.1" r="4.5" fill="#151515"/>
<text class="t" x="391.0" y="550.1" font-size="8.2" fill="#231f20" >0.2</text>
</svg></body></html>
